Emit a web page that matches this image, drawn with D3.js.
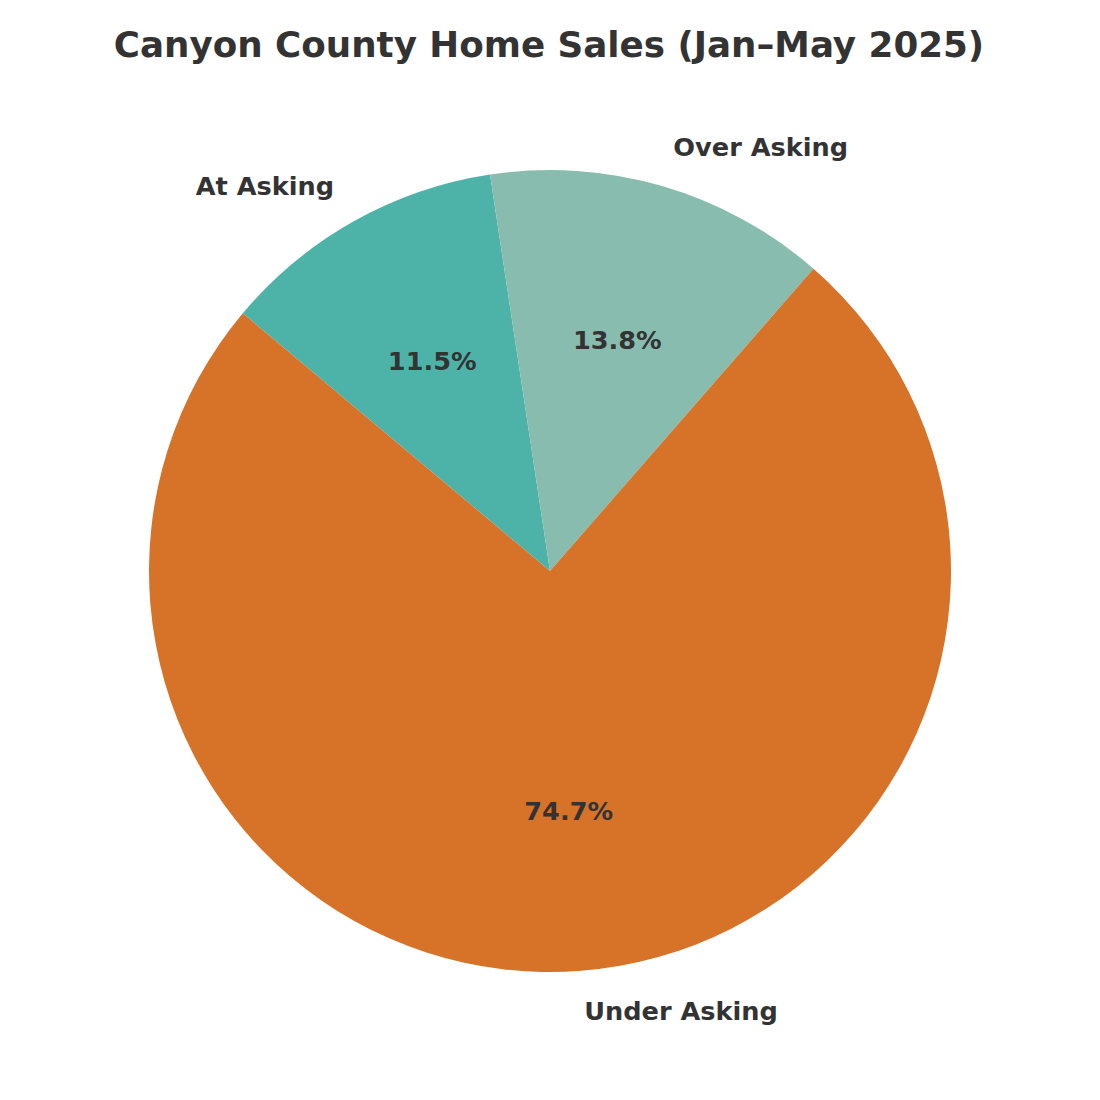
<!DOCTYPE html>
<html><head><meta charset="utf-8">
<script src="https://cdn.jsdelivr.net/npm/d3@7"></script>
<style>body{margin:0;background:#fff}</style>
</head><body>
<svg id="chart" width="1100" height="1100"></svg>
<script>
const categories = ["At Asking", "Over Asking", "Under Asking"];
const values = [11.5, 13.8, 74.7];
const colors = ["#4DB3A9", "#88BCAE", "#D77229"];
const title = "Canyon County Home Sales (Jan\u2013May 2025)";

const svg = d3.select("#chart");
const cx = 550, cy = 571, r = 401;
const font = "'DejaVu Sans', sans-serif";
const textColor = "#333333";

svg.append("text").attr("x", 549).attr("y", 57).attr("text-anchor", "middle")
  .attr("font-family", font).attr("font-weight", "bold").attr("font-size", 35.7)
  .attr("fill", textColor).text(title);

const pie = d3.pie().sort(null).value(d => d)
  .startAngle(-50 * Math.PI / 180).endAngle(310 * Math.PI / 180);
const arcs = pie(values);
const arc = d3.arc().innerRadius(0).outerRadius(r);
const g = svg.append("g").attr("transform", `translate(${cx},${cy})`);
g.selectAll("path").data(arcs).join("path")
  .attr("d", arc).attr("fill", (d, i) => colors[i]);

arcs.forEach((d, i) => {
  const a = (d.startAngle + d.endAngle) / 2;
  const sx = Math.sin(a), sy = -Math.cos(a);
  g.append("text")
    .attr("x", 1.1 * r * sx).attr("y", 1.1 * r * sy)
    .attr("dy", "0.35em")
    .attr("text-anchor", sx >= 0 ? "start" : "end")
    .attr("font-family", font).attr("font-weight", "bold").attr("font-size", 25.6)
    .attr("fill", textColor).text(categories[i]);
  g.append("text")
    .attr("x", 0.6 * r * sx).attr("y", 0.6 * r * sy)
    .attr("dy", "0.35em").attr("text-anchor", "middle")
    .attr("font-family", font).attr("font-weight", "bold").attr("font-size", 25.6)
    .attr("fill", textColor).text(values[i].toFixed(1) + "%");
});
</script>
</body></html>
